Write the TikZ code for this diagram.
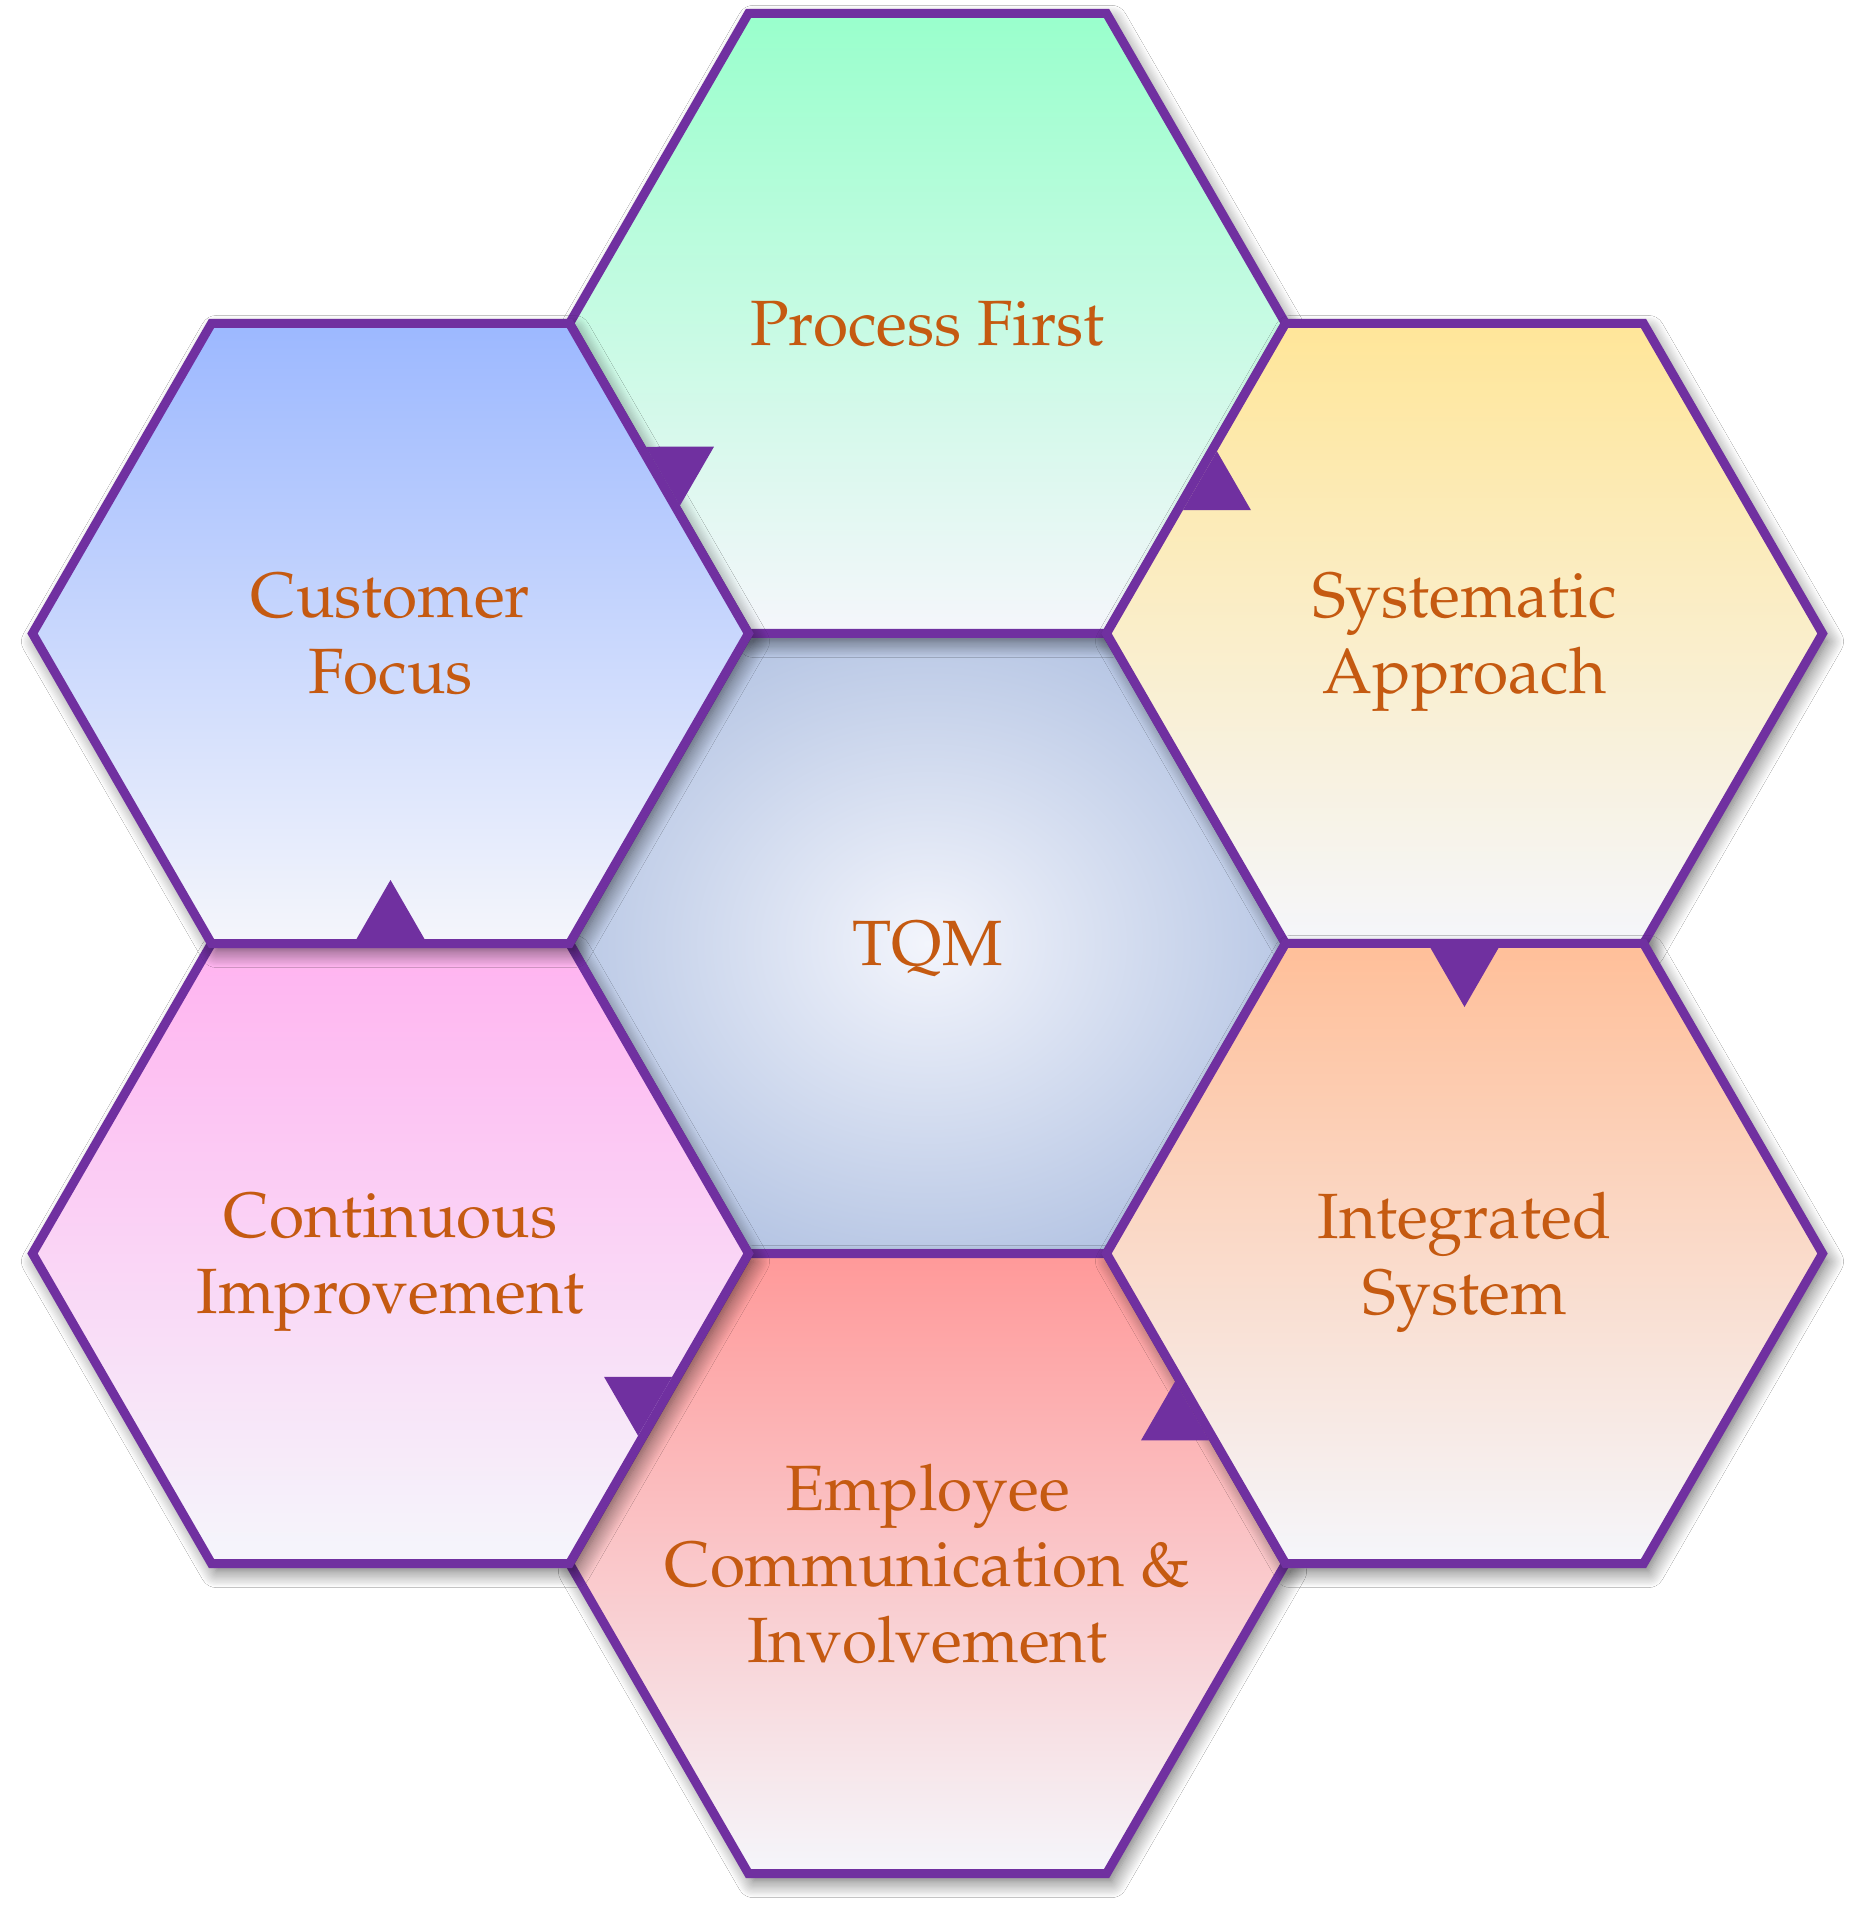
\documentclass[tikz,border=0pt]{standalone}
\usepackage[T1]{fontenc}
\renewcommand{\rmdefault}{ppl}
\usetikzlibrary{calc,shapes.geometric,shadows.blur}
\definecolor{hexline}{HTML}{7030A0}
\definecolor{txt}{HTML}{C55A11}
\definecolor{pale}{HTML}{F5F6FB}
\definecolor{pfc}{HTML}{99FFCC}
\definecolor{cfc}{HTML}{9CB8FF}
\definecolor{sac}{HTML}{FFE699}
\definecolor{isc}{HTML}{FFBF99}
\definecolor{emc}{HTML}{FF9999}
\definecolor{cic}{HTML}{FFB3F0}
\definecolor{tqmin}{HTML}{F3F5FC}
\definecolor{tqmout}{HTML}{AFC0E1}
\pgfdeclareradialshading{tqmshade}{\pgfpoint{0bp}{0bp}}{color(0bp)=(tqmin); color(30bp)=(tqmout); color(50bp)=(tqmout)}
\begin{document}
\begin{tikzpicture}[x=1pt,y=-1pt,
  hexa/.style={regular polygon, regular polygon sides=6, minimum size=716pt,
    inner sep=0pt, outer sep=0pt, draw=hexline, line width=9pt, line join=miter,
    blur shadow={shadow xshift=5pt, shadow yshift=-8pt, shadow blur radius=16pt,
      shadow blur steps=14, shadow opacity=60}},
  lbl/.style={text=txt, align=center, inner sep=0pt, text depth=0pt,
    font=\fontsize{64}{76}\selectfont},
  flow/.style={fill=hexline, draw=none}]
\fill[white] (0,0) rectangle (1855,1924);
\useasboundingbox (0,0) rectangle (1855,1924);

\node[hexa, shade, shading=tqmshade] (tqm) at (927.5,943.5) {};
\node[hexa, top color=pfc, bottom color=pale] (pf) at (927.5,323.4) {};
\node[hexa, top color=emc, bottom color=pale] (em) at (927.5,1563.6) {};
\node[hexa, top color=sac, bottom color=pale] (sa) at (1464.5,633.5) {};
\node[hexa, top color=isc, bottom color=pale] (is) at (1464.5,1253.5) {};
\node[hexa, top color=cic, bottom color=pale] (ci) at (390.5,1253.5) {};
\node[hexa, top color=cfc, bottom color=pale] (cf) at (390.5,633.5) {};

\foreach \a/\b [count=\i] in {cf/pf, pf/sa, sa/is, is/em, em/ci, ci/cf} {
  \coordinate (m\i) at ($(\a.center)!0.5!(\b.center)$);
  \coordinate (n\i) at ($(m\i)!4.5pt!(\b.center)$);
  \fill[flow] ($(n\i)!34pt!90:(\b.center)$) -- ($(n\i)!59pt!(\b.center)$)
     -- ($(n\i)!34pt!-90:(\b.center)$) -- cycle;
}

\node[lbl] (tqmt) at (tqm.center) {TQM};
\node[lbl] (pft) at (pf.center) {Process First};
\node[lbl] (emt) at (em.center) {Employee\\Communication \&\\Involvement};
\node[lbl] (sat) at (sa.center) {Systematic\\Approach};
\node[lbl] (ist) at (is.center) {Integrated\\System};
\node[lbl] (cit) at (ci.center) {Continuous\\Improvement};
\node[lbl] (cft) at (cf.center) {Customer\\Focus};
\end{tikzpicture}
\end{document}
